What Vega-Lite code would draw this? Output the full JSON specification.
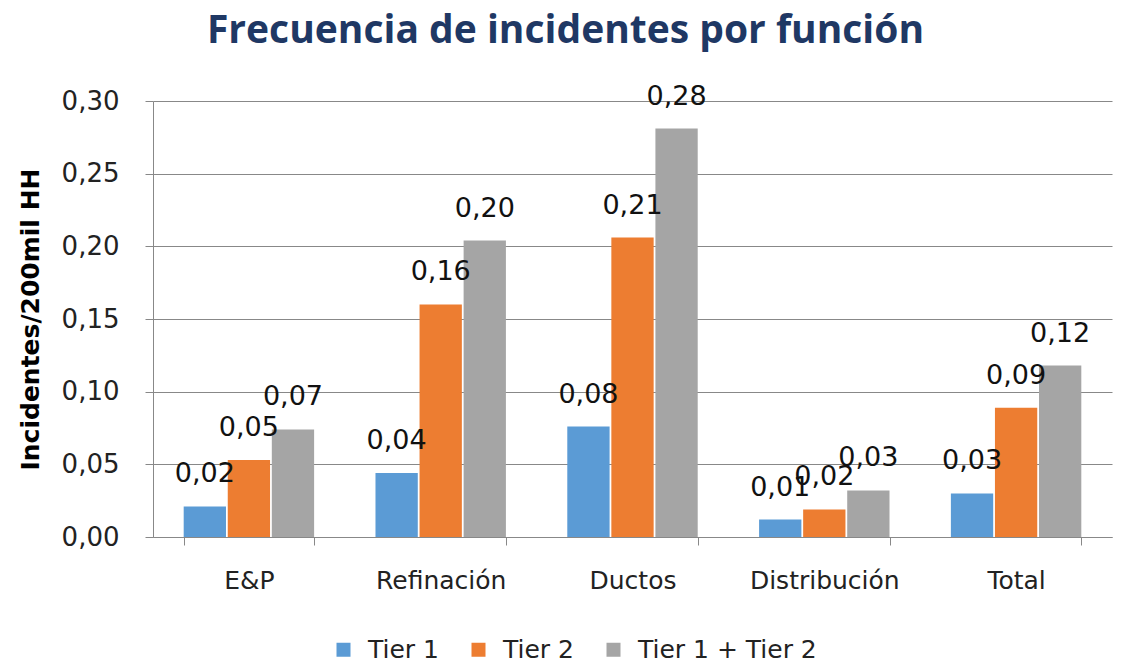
{
  "$schema": "https://vega.github.io/schema/vega-lite/v6.json",
  "width": 959,
  "height": 436,
  "autosize": {"type": "none"},
  "padding": {"left": 153, "top": 101, "right": 10, "bottom": 127},
  "background": "white",
  "config": {
    "locale": {"number": {"decimal": ",", "thousands": ".", "grouping": [3], "currency": ["", " €"]}},
    "view": {"stroke": null},
    "font": "Open Sans"
  },
  "title": {
    "text": "Frecuencia de incidentes por función",
    "font": "Open Sans",
    "fontSize": 39,
    "fontWeight": "bold",
    "color": "#1F3864",
    "anchor": "middle",
    "frame": "group",
    "dx": -67,
    "offset": 32
  },
  "data": {
    "values": [
      {"funcion": "E&P", "serie": "Tier 1", "valor": 0.021},
      {"funcion": "E&P", "serie": "Tier 2", "valor": 0.053},
      {"funcion": "E&P", "serie": "Tier 1 + Tier 2", "valor": 0.074},
      {"funcion": "Refinación", "serie": "Tier 1", "valor": 0.044},
      {"funcion": "Refinación", "serie": "Tier 2", "valor": 0.160},
      {"funcion": "Refinación", "serie": "Tier 1 + Tier 2", "valor": 0.204},
      {"funcion": "Ductos", "serie": "Tier 1", "valor": 0.076},
      {"funcion": "Ductos", "serie": "Tier 2", "valor": 0.206},
      {"funcion": "Ductos", "serie": "Tier 1 + Tier 2", "valor": 0.281},
      {"funcion": "Distribución", "serie": "Tier 1", "valor": 0.012},
      {"funcion": "Distribución", "serie": "Tier 2", "valor": 0.019},
      {"funcion": "Distribución", "serie": "Tier 1 + Tier 2", "valor": 0.032},
      {"funcion": "Total", "serie": "Tier 1", "valor": 0.030},
      {"funcion": "Total", "serie": "Tier 2", "valor": 0.089},
      {"funcion": "Total", "serie": "Tier 1 + Tier 2", "valor": 0.118}
    ]
  },
  "encoding": {
    "x": {
      "field": "funcion",
      "type": "nominal",
      "sort": ["E&P", "Refinación", "Ductos", "Distribución", "Total"],
      "scale": {"paddingInner": 0.32, "paddingOuter": 0.16},
      "axis": {
        "title": null,
        "labelAngle": 0,
        "labelFont": "DejaVu Sans",
        "labelFontSize": 25,
        "labelColor": "#222222",
        "labelPadding": 23,
        "tickSize": 8,
        "tickColor": "#888888",
        "domainColor": "#888888",
        "bandPosition": 0,
        "tickBand": "extent",
        "grid": false
      }
    },
    "xOffset": {
      "field": "serie",
      "type": "nominal",
      "sort": ["Tier 1", "Tier 2", "Tier 1 + Tier 2"],
      "scale": {"paddingInner": 0.04}
    },
    "y": {
      "field": "valor",
      "type": "quantitative",
      "scale": {"domain": [0, 0.3]},
      "axis": {
        "title": "Incidentes/200mil HH",
        "titleFont": "DejaVu Sans",
        "titleFontSize": 25,
        "titleFontWeight": "bold",
        "titleColor": "#000000",
        "titlePadding": 18,
        "values": [0, 0.05, 0.1, 0.15, 0.2, 0.25, 0.3],
        "format": ".2f",
        "labelFont": "DejaVu Sans",
        "labelFontSize": 26,
        "labelColor": "#222222",
        "labelPadding": 26,
        "tickSize": 8,
        "tickColor": "#888888",
        "domainColor": "#888888",
        "gridColor": "#888888",
        "gridWidth": 1
      }
    }
  },
  "layer": [
    {
      "mark": {"type": "bar"},
      "encoding": {
        "color": {
          "field": "serie",
          "type": "nominal",
          "sort": ["Tier 1", "Tier 2", "Tier 1 + Tier 2"],
          "scale": {"domain": ["Tier 1", "Tier 2", "Tier 1 + Tier 2"], "range": ["#5B9BD5", "#ED7D31", "#A5A5A5"]},
          "legend": {
            "title": null,
            "orient": "none",
            "direction": "horizontal",
            "legendX": 178,
            "legendY": 536,
            "symbolType": "square",
            "symbolSize": 196,
            "symbolStrokeWidth": 0,
            "labelFont": "DejaVu Sans",
            "labelFontSize": 25,
            "labelColor": "#222222",
            "labelOffset": 12,
            "labelLimit": 400,
            "columnPadding": 27
          }
        }
      }
    },
    {
      "mark": {"type": "text", "baseline": "alphabetic", "dy": -24, "font": "DejaVu Sans", "fontSize": 27, "color": "#111111"},
      "encoding": {
        "text": {"field": "valor", "type": "quantitative", "format": ".2f"}
      }
    }
  ]
}
